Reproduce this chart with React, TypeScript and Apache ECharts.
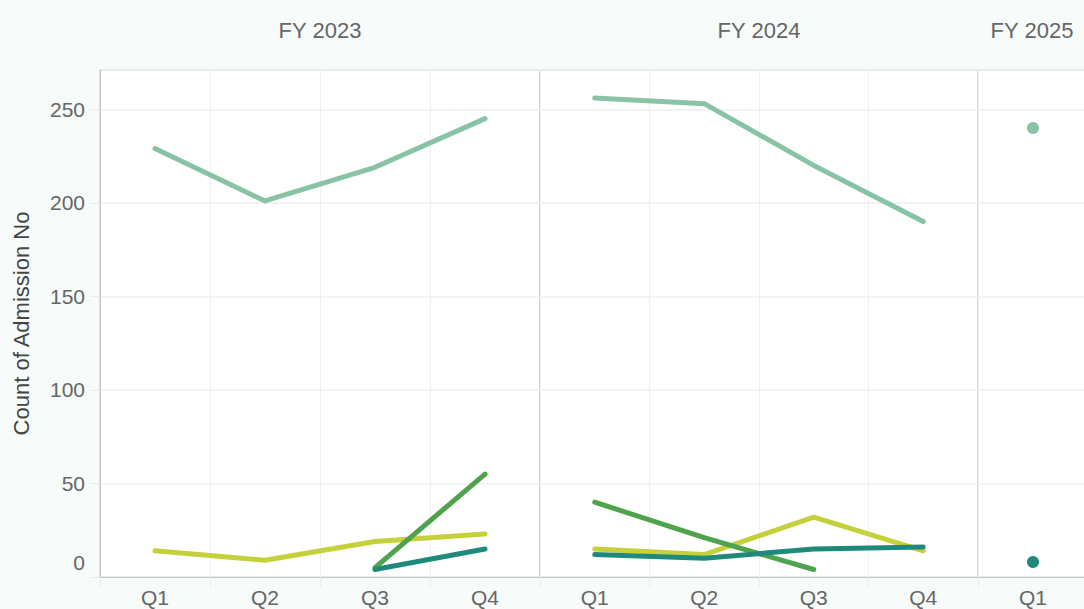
import React, { useEffect, useRef } from "react";
import * as echarts from "echarts";

const years = ["FY 2023", "FY 2024", "FY 2025"];
const quarters2023 = ["Q1", "Q2", "Q3", "Q4"];
const quarters2024 = ["Q1", "Q2", "Q3", "Q4"];
const quarters2025 = ["Q1"];
const yTicks = [0, 50, 100, 150, 200, 250];

// series values per fiscal year (null = no data)
const seriesNames = ["Series A", "Series B", "Series C", "Series D"];
const seriesA2023 = [229, 201, 219, 245];
const seriesA2024 = [256, 253, 220, 190];
const seriesA2025 = [240];
const seriesB2023 = [14, 9, 19, 23];
const seriesB2024 = [15, 12, 32, 14];
const seriesB2025 = [null];
const seriesC2023 = [null, null, 5, 55];
const seriesC2024 = [40, 21, 4, null];
const seriesC2025 = [null];
const seriesD2023 = [null, null, 4, 15];
const seriesD2024 = [12, 10, 15, 16];
const seriesD2025 = [8];

const colors = ["#89c3a6", "#c5d13a", "#4fa34c", "#1f8a7b"];

const FONT = "'Liberation Sans', Arial, Helvetica, sans-serif";
const TXT = "#666666";

export default function App() {
  const ref = useRef<HTMLDivElement>(null);
  useEffect(() => {
    if (!ref.current) return;
    const chart = echarts.init(ref.current, null, { renderer: "svg" });
    const grids = [
      { left: 100, top: 70, width: 440, bottom: 32 },
      { left: 540, top: 70, width: 438, bottom: 32 },
      { left: 978, top: 70, width: 110, bottom: 32 },
    ].map((g) => ({
      ...g,
      show: true,
      backgroundColor: "#ffffff",
      borderColor: "#c4c4c4",
      borderWidth: 1,
      containLabel: false,
    }));
    const cats = [quarters2023, quarters2024, quarters2025];
    const xAxes = cats.map((c, i) => ({
      type: "category",
      gridIndex: i,
      data: c,
      boundaryGap: true,
      axisLine: { show: true, lineStyle: { color: "#c4c4c4" } },
      axisTick: { show: true, length: 10, lineStyle: { color: "#ebebeb" } },
      splitLine: { show: true, lineStyle: { color: "#efefef", width: 1 } },
      axisLabel: { color: TXT, fontSize: 21, fontFamily: FONT, margin: 10 },
    }));
    const yAxes = cats.map((_, i) => ({
      type: "value",
      gridIndex: i,
      min: 0,
      max: 271,
      interval: 50,
      name: i === 0 ? "Count of Admission No" : "",
      nameLocation: "middle",
      nameRotate: 90,
      nameGap: 68,
      nameTextStyle: { color: "#444", fontSize: 22, fontFamily: FONT },
      axisLine: { show: i === 0, lineStyle: { color: "#c4c4c4" } },
      axisTick: { show: i === 0, length: 10, lineStyle: { color: "#ebebeb" } },
      splitLine: { show: true, lineStyle: { color: "#efefef", width: 1.5 } },
      axisLabel: {
        show: i === 0,
        showMaxLabel: false,
        color: TXT,
        fontSize: 21,
        fontFamily: FONT,
        margin: 15,
        formatter: (v: number) => (yTicks.includes(v) ? (v === 0 ? "{z|0}" : String(v)) : ""),
        rich: { z: { padding: [0, 0, 30, 0], fontSize: 21, color: TXT, fontFamily: FONT } },
      },
    }));
    const data = [
      [seriesA2023, seriesA2024, seriesA2025],
      [seriesB2023, seriesB2024, seriesB2025],
      [seriesC2023, seriesC2024, seriesC2025],
      [seriesD2023, seriesD2024, seriesD2025],
    ];
    const series: any[] = [];
    data.forEach((perYear, si) => {
      perYear.forEach((vals, gi) => {
        series.push({
          type: "line",
          name: seriesNames[si],
          xAxisIndex: gi,
          yAxisIndex: gi,
          data: vals,
          showSymbol: gi === 2,
          symbol: "circle",
          symbolSize: 12,
          connectNulls: false,
          itemStyle: { color: colors[si] },
          lineStyle: { color: colors[si], width: 5, cap: "round", join: "round" },
          emphasis: { disabled: true },
        });
      });
    });
    const titleX = [315, 754, 1027];
    chart.setOption({
      animation: false,
      backgroundColor: "#f7fbfa",
      title: years.map((y, i) => ({
        text: y,
        left: titleX[i],
        top: 14,
        textAlign: "center",
        textStyle: { color: TXT, fontSize: 22, fontWeight: "normal", fontFamily: FONT },
      })),
      grid: grids,
      xAxis: xAxes,
      yAxis: yAxes,
      series,
    });
    return () => chart.dispose();
  }, []);
  return (
    <div
      ref={ref}
      style={{ position: "fixed", left: 0, top: 0, width: 1090, height: 609 }}
    />
  );
}
